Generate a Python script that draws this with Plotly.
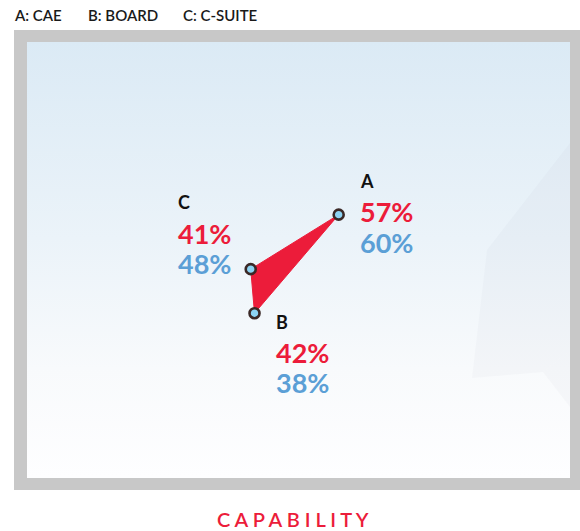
import plotly.graph_objects as go

# ---- data ----
groups = ["A", "B", "C"]
group_names = ["CAE", "BOARD", "C-SUITE"]
red_values = [57.4, 41.9, 41.2]    # x position (red %)
blue_values = [60.4, 37.8, 47.9]   # y position (blue %)
title_text = "CAPABILITY"

RED = "#ec1c3a"
BLUE = "#5b9fd6"
W, H = 580, 531
L, R, T, B = 27, 10, 42, 53
PW, PH = W - L - R, H - T - B

def px(xp):
    return (xp - L) / PW

def py(yp):
    return (H - B - yp) / PH

fig = go.Figure()

# background gradient panel
fig.add_trace(go.Scatter(
    x=[0, 100, 100, 0, 0], y=[0, 0, 100, 100, 0], mode="lines",
    line=dict(width=0), fill="toself", hoverinfo="skip", showlegend=False,
    fillgradient=dict(type="vertical",
                      colorscale=[[0, "#fefeff"], [0.25, "#f8fafc"], [0.55, "#ebf3f9"], [1, "#dbeaf5"]]),
))

# faint decorative facets
facets = [
    [(570, 143), (487, 250), (472, 378), (543, 372), (570, 350)],
    [(543, 372), (570, 350), (570, 407)],
]
for poly in facets:
    xs = [px(p[0]) * 100 for p in poly] + [px(poly[0][0]) * 100]
    ys = [py(p[1]) * 100 for p in poly] + [py(poly[0][1]) * 100]
    fig.add_trace(go.Scatter(x=xs, y=ys, mode="lines", line=dict(width=0),
                             fill="toself", fillcolor="rgba(140,150,160,0.045)",
                             hoverinfo="skip", showlegend=False))

# triangle
fig.add_trace(go.Scatter(
    x=red_values + [red_values[0]], y=blue_values + [blue_values[0]],
    mode="lines", line=dict(color=RED, width=1), fill="toself", fillcolor=RED,
    hoverinfo="skip", showlegend=False,
))
# markers
fig.add_trace(go.Scatter(
    x=red_values, y=blue_values, mode="markers",
    marker=dict(size=10, color="#8dd3f3", line=dict(color="#3a2826", width=2.6)),
    showlegend=False, hoverinfo="skip",
))

FONT = "Lato"
offsets = {"A": (19, [34, 3, -28]), "B": (19, [-9, -39, -69]), "C": (-75, [67, 36, 6])}
ann = []
for g, xv, yv in zip(groups, red_values, blue_values):
    dx, dys = offsets[g]
    ann.append(dict(x=xv, y=yv, xref="x", yref="y", text=f"<b>{g}</b>", showarrow=False,
                    xanchor="left", yanchor="middle", xshift=dx, yshift=dys[0],
                    font=dict(family=FONT, size=18, color="#111111")))
    ann.append(dict(x=xv, y=yv, xref="x", yref="y", text=f"<b>{round(xv)}%</b>", showarrow=False,
                    xanchor="left", yanchor="middle", xshift=dx, yshift=dys[1],
                    font=dict(family=FONT, size=27, color=RED)))
    ann.append(dict(x=xv, y=yv, xref="x", yref="y", text=f"<b>{round(yv)}%</b>", showarrow=False,
                    xanchor="left", yanchor="middle", xshift=dx, yshift=dys[2],
                    font=dict(family=FONT, size=27, color=BLUE)))

# top legend text
leg_x = [14, 88, 183]
for g, name, lx in zip(groups, group_names, leg_x):
    ann.append(dict(x=px(lx), y=py(15), xref="paper", yref="paper", text=f"{g}: {name}",
                    showarrow=False, xanchor="left", yanchor="middle", xshift=-2,
                    font=dict(family=FONT, size=15, color="#1a1a1a", weight=600)))

# bottom title
ann.append(dict(x=px(293), y=py(519), xref="paper", yref="paper",
                text=" ".join(list(title_text)), showarrow=False,
                xanchor="center", yanchor="middle",
                font=dict(family=FONT, size=20, color=RED, weight=600)))

shapes = [dict(type="rect", xref="paper", yref="paper", layer="below",
               x0=px(14), x1=px(580), y0=py(490), y1=py(30),
               fillcolor="#c8c8c8", line=dict(width=0))]

fig.update_layout(
    width=W, height=H, margin=dict(l=L, r=R, t=T, b=B),
    paper_bgcolor="white", plot_bgcolor="white",
    xaxis=dict(range=[0, 100], visible=False, fixedrange=True),
    yaxis=dict(range=[0, 100], visible=False, fixedrange=True),
    annotations=ann, shapes=shapes, showlegend=False,
)

fig.write_html("out.html", config={"displayModeBar": False},
               post_script="document.body.style.margin='0';document.body.style.overflow='hidden';")
